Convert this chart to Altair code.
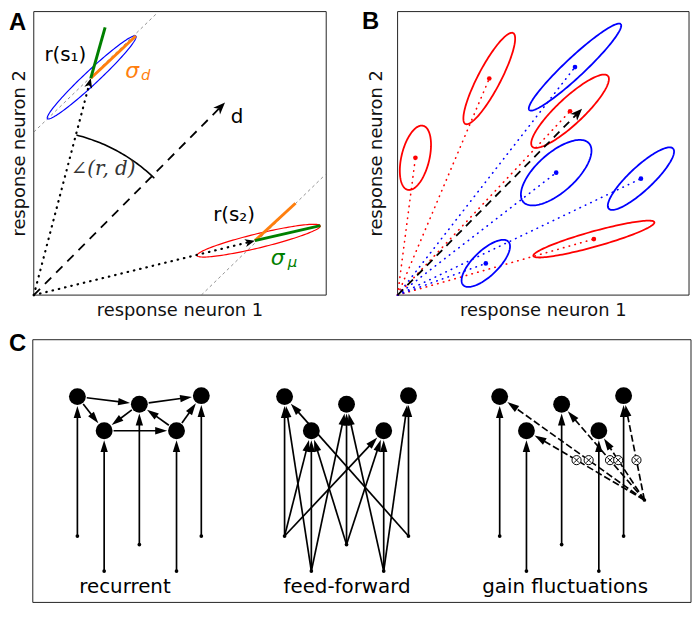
import math
import altair as alt
import pandas as pd

W, H = 690, 598          # whole drawing (autosize none, padding 0)
OX, OY = 8, 8            # page margin

# ---------------- data ----------------
# Panel A (units: fraction of each response axis)
A_R_X = [0.195, 0.756]                 # r(s1), r(s2)
A_R_Y = [0.765, 0.192]
A_ELL_CX = [0.198, 0.769]
A_ELL_CY = [0.768, 0.192]
A_ELL_A = [0.210, 0.217]
A_ELL_B = [0.024, 0.025]
A_ELL_ANG = [44, 14]
A_ELL_COL = ["#0000ff", "#ff0000"]
A_SD_X = [0.349, 0.895]                # end of sigma_d (orange) segments
A_SD_Y = [0.914, 0.324]
A_SM_X = [0.244, 0.980]                # end of sigma_mu (green) segments
A_SM_Y = [0.944, 0.245]
A_D_END = [0.654, 0.679]
A_ARC_R = 0.583
A_ARC_DEG = [45.0, 75.5]
A_GUIDE_X = [0.0, 0.573]
A_GUIDE_Y = [0.575, 0.0]
A_GUIDE_X2 = [0.424, 0.997]
A_GUIDE_Y2 = [0.997, 0.425]

# Panel B
B_CX = [0.0612, 0.3146, 0.6088, 0.5918, 0.5442, 0.8350, 0.6735, 0.3027]
B_CY = [0.4843, 0.7640, 0.8042, 0.6486, 0.4318, 0.4108, 0.1976, 0.1119]
B_A = [0.116, 0.180, 0.218, 0.180, 0.153, 0.153, 0.216, 0.109]
B_B = [0.048, 0.039, 0.034, 0.046, 0.068, 0.041, 0.027, 0.044]
B_ANG = [77, 63, 44, 44, 43, 44, 16, 45]
B_COL = ["#ff0000", "#ff0000", "#0000ff", "#ff0000", "#0000ff", "#0000ff", "#ff0000", "#0000ff"]
B_D_END = [0.633, 0.657]

# Panel C (layout units)
C_NET_X = [10.75, 31.65, 53.35]
C_NODE_DX = [-6.25, 0.0, 6.25, -3.55, 3.75]
C_NODE_Y = [21.7, 20.9, 21.8, 18.1, 18.1]
C_SRC_Y = [7.0, 6.1, 7.0, 3.3, 3.3]
REC_EDGES = [(0, 1), (0, 3), (1, 3), (3, 4), (4, 1), (1, 2), (4, 2)]
FF_EDGES = [(0, 0), (0, 3), (0, 4), (3, 0), (3, 3), (3, 1), (1, 3), (1, 1), (1, 4),
            (4, 1), (4, 4), (4, 2), (2, 2), (2, 0)]
GAIN_SRC = [61.7, 10.8]
GAIN_MARK_Y = 15.0
C_LABELS = ["recurrent", "feed-forward", "gain fluctuations"]
C_LABEL_X = [9.3, 31.7, 53.7]

AX_X_TITLE = "response neuron 1"
AX_Y_TITLE = "response neuron 2"


class Panel:
    def __init__(self, dx0, dx1, px0, px1, dy0, dy1, py0, py1):
        a0, a1 = px0 - OX, px1 - OX
        self.kx = (a1 - a0) / (dx1 - dx0)
        self.xdom = [dx0 - a0 / self.kx, dx0 + (W - a0) / self.kx]
        b0, b1 = H - (py0 - OY), H - (py1 - OY)
        self.ky = (b1 - b0) / (dy1 - dy0)
        self.ydom = [dy0 - b0 / self.ky, dy0 + (H - b0) / self.ky]

    def px(self, x, y):
        return ((x - self.xdom[0]) * self.kx, H - (y - self.ydom[0]) * self.ky)

    def data(self, sx, sy):
        return (sx / self.kx + self.xdom[0], (H - sy) / self.ky + self.ydom[0])

    def enc(self, x="x", y="y", x2=None, y2=None, **extra):
        e = dict(
            x=alt.X(f"{x}:Q", scale=alt.Scale(domain=self.xdom, nice=False, zero=False), axis=None),
            y=alt.Y(f"{y}:Q", scale=alt.Scale(domain=self.ydom, nice=False, zero=False), axis=None),
        )
        if x2:
            e["x2"] = alt.X2(f"{x2}:Q")
        if y2:
            e["y2"] = alt.Y2(f"{y2}:Q")
        e.update(extra)
        return e

    def seg(self, p, q, start_back=0.0, end_back=0.0, half=6.0):
        (fx, fy), (tx, ty) = self.px(*p), self.px(*q)
        L = math.hypot(tx - fx, ty - fy)
        ux, uy = (tx - fx) / L, (ty - fy) / L
        sx, sy = fx + ux * start_back, fy + uy * start_back
        cx, cy = tx - ux * (end_back + half), ty - uy * (end_back + half)
        ang = math.degrees(math.atan2(ux, -uy)) % 360
        x0, y0 = self.data(sx, sy)
        hx, hy = self.data(cx, cy)
        return x0, y0, hx, hy, ang


PA = Panel(0, 1, 34, 329, 0, 1, 295, 9)
PB = Panel(0, 1, 401, 695, 0, 1, 295, 9)
PC = Panel(0, 66.4, 33, 697, 0, 27.7, 605, 340)

PLAIN = "M0,-1L0.62,1L-0.62,1Z"
STEALTH = "M0,-1L0.8,1L0,0.45L-0.8,1Z"
XMARK = "M-0.55,-0.55L0.55,0.55M-0.55,0.55L0.55,-0.55"

layers = []


def df(rows):
    return pd.DataFrame(rows)


def rules(panel, rows, **kw):
    return alt.Chart(df(rows)).mark_rule(**kw).encode(
        **panel.enc("x", "y", "x2", "y2", color=alt.Color("c:N", scale=None)))


def heads(panel, rows, shape):
    return alt.Chart(df(rows)).mark_point(shape=shape, filled=True, opacity=1, strokeWidth=0).encode(
        **panel.enc(angle=alt.Angle("ang:Q", scale=None), size=alt.Size("s:Q", scale=None),
                    color=alt.Color("c:N", scale=None)))


def texts(panel, rows, **kw):
    return alt.Chart(df(rows)).mark_text(**kw).encode(
        **panel.enc(text=alt.Text("t:N"), color=alt.Color("c:N", scale=None)))


def box(panel, x0, x1, y0, y1):
    return alt.Chart(df([dict(x=x0, x2=x1, y=y0, y2=y1)])).mark_rect(
        fill="white", fillOpacity=0, stroke="#222", strokeWidth=1).encode(**panel.enc("x", "y", "x2", "y2"))


def ellipse_rows(cx, cy, a, b, ang, key, col, n=140):
    th = math.radians(ang)
    out = []
    for k in range(n + 1):
        t = 2 * math.pi * k / n
        out.append(dict(
            x=cx + a * math.cos(t) * math.cos(th) - b * math.sin(t) * math.sin(th),
            y=cy + a * math.cos(t) * math.sin(th) + b * math.sin(t) * math.cos(th),
            k=k, id=key, c=col))
    return out


def ellipses(panel, rows, width):
    return alt.Chart(df(rows)).mark_line(strokeWidth=width).encode(
        **panel.enc(detail="id:N", order="k:Q", color=alt.Color("c:N", scale=None)))


# ================= Panel A =================
layers.append(box(PA, 0, 1, 0, 1))
layers.append(rules(PA, [dict(x=A_GUIDE_X[i], y=A_GUIDE_Y[i], x2=A_GUIDE_X2[i], y2=A_GUIDE_Y2[i], c="#777")
                         for i in range(2)], strokeWidth=0.8, strokeDash=[3, 3]))
ell = []
for i in range(2):
    ell += ellipse_rows(A_ELL_CX[i], A_ELL_CY[i], A_ELL_A[i], A_ELL_B[i], A_ELL_ANG[i], f"a{i}", A_ELL_COL[i])
layers.append(ellipses(PA, ell, 1.2))

a_heads = []
dot_rows = []
for i in range(2):
    x0, y0, hx, hy, ang = PA.seg((0, 0), (A_R_X[i], A_R_Y[i]), half=5)
    dot_rows.append(dict(x=x0, y=y0, x2=hx, y2=hy, c="black"))
    a_heads.append(dict(x=hx, y=hy, ang=ang, s=100, c="black"))
layers.append(rules(PA, dot_rows, strokeWidth=2.2, strokeDash=[0.5, 6], strokeCap="round"))

x0, y0, hx, hy, ang = PA.seg((0, 0), tuple(A_D_END), half=6)
layers.append(rules(PA, [dict(x=x0, y=y0, x2=hx, y2=hy, c="black")], strokeWidth=1.8, strokeDash=[9, 7]))
a_heads.append(dict(x=hx, y=hy, ang=ang, s=144, c="black"))

arc = []
for k in range(41):
    t = math.radians(A_ARC_DEG[0] + (A_ARC_DEG[1] - A_ARC_DEG[0]) * k / 40)
    arc.append(dict(x=A_ARC_R * math.cos(t), y=A_ARC_R * math.sin(t), k=k, id="arc", c="black"))
layers.append(ellipses(PA, arc, 1.6))

layers.append(rules(PA, [dict(x=A_R_X[i], y=A_R_Y[i], x2=A_SD_X[i], y2=A_SD_Y[i], c="#ff7f0e")
                         for i in range(2)], strokeWidth=3))
layers.append(rules(PA, [dict(x=A_R_X[i], y=A_R_Y[i], x2=A_SM_X[i], y2=A_SM_Y[i], c="#008000")
                         for i in range(2)], strokeWidth=3))
layers.append(heads(PA, a_heads, STEALTH))

layers.append(texts(PA, [dict(x=0.108, y=0.847, t="r(s₁)", c="black"),
                         dict(x=0.685, y=0.282, t="r(s₂)", c="black"),
                         dict(x=0.695, y=0.627, t="d", c="black")],
                    font="DejaVu Sans", fontSize=20, align="center", baseline="middle"))
layers.append(texts(PA, [dict(x=0.336, y=0.791, t="σ", c="#ff7f0e"),
                         dict(x=0.834, y=0.132, t="σ", c="#008000")],
                    font="DejaVu Sans", fontSize=22, fontStyle="italic", align="center", baseline="middle"))
layers.append(texts(PA, [dict(x=0.383, y=0.777, t="d", c="#ff7f0e"),
                         dict(x=0.885, y=0.115, t="μ", c="#008000")],
                    font="DejaVu Sans", fontSize=15, fontStyle="italic", align="center", baseline="middle"))
layers.append(texts(PA, [dict(x=0.237, y=0.446, t="∠(r, d)", c="#333")],
                    font="DejaVu Serif", fontSize=20, fontStyle="italic", align="center", baseline="middle"))

# axis titles and panel letters
for P, letter, lx, ly, ytx in [(PA, "A", -0.085, 0.934, -0.029), (PB, "B", -0.122, 0.937, -0.054)]:
    layers.append(texts(P, [dict(x=lx, y=ly, t=letter, c="black")],
                        font="Liberation Sans", fontSize=24, fontWeight="bold", align="left",
                        baseline="alphabetic"))
    layers.append(texts(P, [dict(x=0.5, y=-0.075, t=AX_X_TITLE, c="#111")],
                        font="DejaVu Sans", fontSize=18, align="center", baseline="alphabetic"))
    layers.append(texts(P, [dict(x=ytx, y=0.5, t=AX_Y_TITLE, c="#111")],
                        font="DejaVu Sans", fontSize=18, align="center", baseline="alphabetic", angle=270))

# ================= Panel B =================
layers.append(box(PB, 0, 1, 0, 1))
b_dots = []
for i in range(len(B_CX)):
    b_dots.append(dict(x=0, y=0, x2=B_CX[i], y2=B_CY[i], c=B_COL[i]))
layers.append(rules(PB, b_dots, strokeWidth=1.6, strokeDash=[0.5, 5.5], strokeCap="round"))
ell = []
for i in range(len(B_CX)):
    ell += ellipse_rows(B_CX[i], B_CY[i], B_A[i], B_B[i], B_ANG[i], f"b{i}", B_COL[i])
layers.append(ellipses(PB, ell, 1.8))
layers.append(alt.Chart(df([dict(x=B_CX[i], y=B_CY[i], c=B_COL[i]) for i in range(len(B_CX))]))
              .mark_point(filled=True, opacity=1, size=22, shape="circle")
              .encode(**PB.enc(color=alt.Color("c:N", scale=None))))
x0, y0, hx, hy, ang = PB.seg((0, 0), tuple(B_D_END), half=6)
layers.append(rules(PB, [dict(x=x0, y=y0, x2=hx, y2=hy, c="black")], strokeWidth=1.8, strokeDash=[8, 6]))
layers.append(heads(PB, [dict(x=hx, y=hy, ang=ang, s=144, c="black")], STEALTH))

# ================= Panel C =================
layers.append(box(PC, 0, 66.4, 0, 27.7))
NODE_R = 9.5
solid, dashed, c_heads, nodes, srcs, marks = [], [], [], [], [], []
for n, cx in enumerate(C_NET_X):
    node = [(cx + C_NODE_DX[i], C_NODE_Y[i]) for i in range(5)]
    src = [(cx + C_NODE_DX[i], C_SRC_Y[i]) for i in range(5)]
    nodes += [dict(x=p[0], y=p[1], c="black") for p in node]
    srcs += [dict(x=p[0], y=p[1], c="black") for p in src]
    inputs = FF_EDGES if n == 1 else [(i, i) for i in range(5)]
    for s, t in inputs:
        x0, y0, hx, hy, ang = PC.seg(src[s], node[t], end_back=NODE_R)
        solid.append(dict(x=x0, y=y0, x2=hx, y2=hy, c="black"))
        c_heads.append(dict(x=hx, y=hy, ang=ang, s=144, c="black"))
    if n == 0:
        for a, b in REC_EDGES:
            x0, y0, hx, hy, ang = PC.seg(node[a], node[b], start_back=NODE_R, end_back=NODE_R)
            solid.append(dict(x=x0, y=y0, x2=hx, y2=hy, c="black"))
            c_heads.append(dict(x=hx, y=hy, ang=ang, s=144, c="black"))
    if n == 2:
        g = tuple(GAIN_SRC)
        srcs.append(dict(x=g[0], y=g[1], c="black"))
        for i in range(5):
            x0, y0, hx, hy, ang = PC.seg(g, node[i], end_back=NODE_R)
            dashed.append(dict(x=x0, y=y0, x2=hx, y2=hy, c="black"))
            c_heads.append(dict(x=hx, y=hy, ang=ang, s=144, c="black"))
            tt = (GAIN_MARK_Y - g[1]) / (node[i][1] - g[1])
            marks.append(dict(x=g[0] + tt * (node[i][0] - g[0]), y=GAIN_MARK_Y, c="black"))

layers.append(rules(PC, solid, strokeWidth=1.7))
layers.append(rules(PC, dashed, strokeWidth=1.7, strokeDash=[7, 3]))
layers.append(heads(PC, c_heads, PLAIN))
layers.append(alt.Chart(df(nodes)).mark_point(filled=True, opacity=1, size=290, shape="circle", color="black")
              .encode(**PC.enc()))
layers.append(alt.Chart(df(srcs)).mark_point(filled=True, opacity=1, size=14, shape="circle", color="black")
              .encode(**PC.enc()))
layers.append(alt.Chart(df(marks)).mark_point(filled=True, opacity=1, size=85, shape="circle",
                                               fill="white", stroke="black", strokeWidth=1)
              .encode(**PC.enc()))
layers.append(alt.Chart(df(marks)).mark_point(filled=False, opacity=1, size=90, shape=XMARK,
                                               stroke="black", strokeWidth=1)
              .encode(**PC.enc()))
layers.append(texts(PC, [dict(x=C_LABEL_X[i], y=1.0, t=C_LABELS[i], c="black") for i in range(3)],
                    font="DejaVu Sans", fontSize=20, align="center", baseline="alphabetic"))
layers.append(texts(PC, [dict(x=-2.4, y=26.5, t="C", c="black")],
                    font="Liberation Sans", fontSize=24, fontWeight="bold", align="left",
                    baseline="alphabetic"))

chart = alt.layer(*layers).resolve_scale(x="independent", y="independent").properties(
    width=W, height=H, padding=0, autosize=alt.AutoSizeParams(type="none")
).configure_view(stroke=None)

chart.save("out.html", embed_options={"renderer": "svg", "actions": False})
